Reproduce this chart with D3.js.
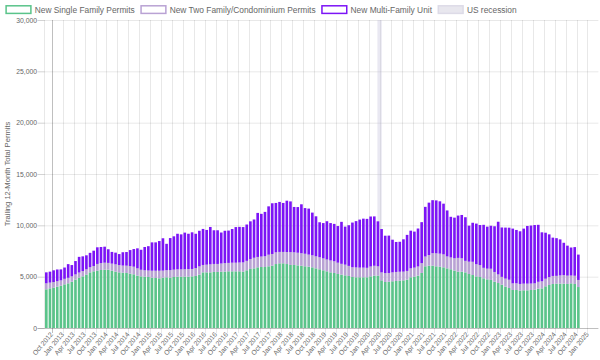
<!DOCTYPE html>
<html>
<head>
<meta charset="utf-8">
<script src="https://cdn.jsdelivr.net/npm/d3@7/dist/d3.min.js"></script>
<style>
  body { margin: 0; background: #fff; }
  #chart { width: 600px; height: 360px; }
  text { font-family: "Liberation Sans", Arial, Helvetica, sans-serif; fill: #666; }
</style>
</head>
<body>
<div id="chart"></div>
<script>
// x categories: one per month, Aug 2012 .. Mar 2025 (data stops at Oct 2024)
const firstMonth = new Date(2012, 7, 1);
const lastMonth = new Date(2025, 2, 1);

// trailing 12-month permits, starting Aug 2012
const singleFamily = [
  3770,3860,3930,4030,4120,4250,4350,4510,4710,4900,
  5030,5200,5420,5520,5590,5650,5680,5680,5590,5490,
  5420,5390,5360,5290,5230,5100,5030,5000,4970,4900,
  4870,4840,4900,4940,4900,4970,5000,5000,5000,5000,
  5030,5070,5200,5420,5420,5420,5460,5460,5490,5490,
  5520,5520,5520,5520,5490,5620,5750,5810,5910,5940,
  5940,6010,6070,6230,6300,6300,6230,6140,6140,6100,
  6070,6010,5970,5910,5810,5720,5620,5520,5420,5360,
  5260,5200,5130,5070,4970,4940,4940,4940,4940,5030,
  5100,5100,4640,4480,4510,4550,4580,4610,4640,4710,
  4940,5000,5100,5360,6010,6070,6070,6010,5970,5910,
  5810,5720,5590,5490,5490,5420,5260,5160,5030,4970,
  4840,4740,4680,4510,4380,4220,4030,3900,3700,3700,
  3640,3670,3670,3700,3730,3830,3860,4060,4190,4290,
  4320,4320,4320,4290,4350,4290,3990
];
const twoFamily = [
  580,560,550,530,520,540,540,520,510,500,
  520,520,500,520,650,680,680,660,680,710,
  710,690,710,740,740,710,640,620,630,680,
  710,740,690,690,740,710,710,710,720,740,
  720,770,800,720,750,780,780,780,790,830,
  820,840,840,860,900,920,970,1030,1010,1020,
  1050,1130,1140,1140,1110,1110,1170,1250,1230,1230,
  1210,1220,1180,1170,1170,1170,1160,1150,1160,1140,
  1100,1050,1040,980,950,960,940,940,920,960,
  960,910,780,870,850,870,880,870,850,850,
  870,880,890,960,950,1040,1220,1260,1270,1260,
  1160,1150,1200,1340,1300,1120,1200,1290,1180,1160,
  1020,1040,1090,950,840,760,780,800,650,650,
  650,650,650,630,620,670,690,740,770,780,
  760,800,830,810,760,800,690
];
const multiFamily = [
  1070,1070,1140,1140,1070,1100,1330,1100,1300,1530,
  1430,1360,1400,1490,1620,1560,1560,1330,1140,1140,
  1070,1300,1330,1560,1720,1950,1950,2270,2370,2760,
  2760,2890,3150,2570,3120,3250,3470,3410,3570,3440,
  3570,3340,3470,3510,3380,3640,3280,3280,3020,3150,
  3150,3280,3470,3470,3440,3540,3670,3730,4290,4160,
  4320,4710,4940,4810,4870,4770,5000,4940,4420,4450,
  4770,4450,4480,4160,3900,3410,3440,3730,3640,3640,
  3570,4090,3700,3960,4350,4510,4680,4770,4770,4870,
  4810,4380,4220,3640,3640,3180,2920,2920,3150,3510,
  3670,3510,3700,3990,4840,5100,5160,5160,5100,4940,
  4480,3960,3960,4120,4220,4250,3510,3800,3960,3900,
  4190,4090,4190,4450,5130,4810,4970,5070,5330,5200,
  5130,5360,5620,5650,5680,5550,4770,4480,4160,3730,
  3670,3510,3150,2920,2730,2790,2470
];
const seriesKeys = ['single', 'two', 'multi'];
const seriesNames = ['New Single Family Permits', 'New Two Family/Condominium Permits', 'New Multi-Family Unit'];
const yTicks = [0, 5000, 10000, 15000, 20000, 25000, 30000];
const recessionMonths = ['2020-03', '2020-04'];

const colors = { single: '#5ac48a', two: '#b9a2d4', multi: '#7c14f6' };

const width = 600, height = 360;
const margin = { top: 20, right: 1.6, bottom: 32, left: 44.5 };

const key = d3.timeFormat('%Y-%m');
const parseKey = d3.timeParse('%Y-%m');
const label = d3.timeFormat('%b %Y');
const months = d3.timeMonth.range(firstMonth, d3.timeMonth.offset(lastMonth, 1));

const rows = singleFamily.map((v, i) => ({
  month: key(months[i]), single: v, two: twoFamily[i], multi: multiFamily[i]
}));
const stacked = d3.stack().keys(seriesKeys)(rows);

const svg = d3.select('#chart').append('svg')
  .attr('width', width)
  .attr('height', height);

// scales
const x = d3.scaleBand()
  .domain(months.map(key))
  .range([margin.left, width - margin.right]);
const y = d3.scaleLinear()
  .domain([0, 30000])
  .range([height - margin.bottom, margin.top]);
const bw = x.bandwidth();

// ticks every quarter (Jan, Apr, Jul, Oct)
const tickMonths = months.filter(m => m.getMonth() % 3 === 0).map(key);

// horizontal grid
svg.append('g').attr('class', 'grid-y')
  .selectAll('line')
  .data(yTicks.filter(d => d > 0))
  .join('line')
  .attr('x1', margin.left - 7).attr('x2', width - margin.right)
  .attr('y1', d => y(d) + 0.5).attr('y2', d => y(d) + 0.5)
  .attr('stroke', 'rgba(0,0,0,0.09)');

// vertical grid at the left edge of each labelled month
svg.append('g').attr('class', 'grid-x')
  .selectAll('line')
  .data(tickMonths)
  .join('line')
  .attr('x1', d => Math.round(x(d)) + 0.5).attr('x2', d => Math.round(x(d)) + 0.5)
  .attr('y1', margin.top).attr('y2', height - margin.bottom + 5)
  .attr('stroke', (d, i) => i === 0 ? 'rgba(0,0,0,0.25)' : 'rgba(0,0,0,0.09)');

// y axis border
svg.append('line')
  .attr('x1', margin.left).attr('x2', margin.left)
  .attr('y1', margin.top).attr('y2', height - margin.bottom)
  .attr('stroke', 'rgba(0,0,0,0.09)');

// recession band
svg.append('rect')
  .attr('x', x(recessionMonths[0]) + bw * 0.35)
  .attr('y', margin.top)
  .attr('width', x(recessionMonths[1]) + bw * 0.55 - x(recessionMonths[0]) - bw * 0.35)
  .attr('height', height - margin.bottom - margin.top)
  .attr('fill', 'rgba(195,190,220,0.36)');

// stacked bars
svg.append('g').attr('class', 'bars')
  .selectAll('g')
  .data(stacked)
  .join('g')
  .attr('fill', s => colors[s.key])
  .selectAll('rect')
  .data(s => s)
  .join('rect')
  .attr('x', d => x(d.data.month) + bw * 0.14)
  .attr('width', bw * 0.72)
  .attr('y', d => y(d[1]))
  .attr('height', d => y(d[0]) - y(d[1]));

// zero line
svg.append('line')
  .attr('x1', margin.left - 7).attr('x2', width - margin.right)
  .attr('y1', y(0) + 0.5).attr('y2', y(0) + 0.5)
  .attr('stroke', 'rgba(0,0,0,0.25)');

// y axis labels
const yAxis = svg.append('g')
  .attr('class', 'axis axis-y')
  .attr('transform', `translate(${margin.left}, 0)`)
  .call(d3.axisLeft(y).tickValues(yTicks).tickSize(7).tickPadding(0.5).tickFormat(d3.format(',')));
yAxis.select('.domain').remove();
yAxis.selectAll('line').attr('stroke', 'rgba(0,0,0,0.09)');
yAxis.selectAll('text').style('font-size', '6.8px');

// x axis labels
const xAxis = svg.append('g')
  .attr('class', 'axis axis-x')
  .attr('transform', `translate(0, ${height - margin.bottom})`)
  .call(d3.axisBottom(x).tickValues(tickMonths).tickSize(0).tickFormat(k => label(parseKey(k))));
xAxis.select('.domain').remove();
xAxis.selectAll('text')
  .style('font-size', '6.8px')
  .attr('y', 0)
  .attr('dy', '0.35em')
  .attr('text-anchor', 'end')
  .attr('transform', 'translate(-2, 5) rotate(-50)');

// y axis title
svg.append('text')
  .attr('transform', `translate(7, ${(margin.top + height - margin.bottom) / 2}) rotate(-90)`)
  .attr('text-anchor', 'middle')
  .attr('dy', '0.35em')
  .style('font-size', '7.6px')
  .text('Trailing 12-Month Total Permits');

// legend
const legendItems = seriesKeys.map((k, i) => ({ name: seriesNames[i], fill: '#fff', stroke: colors[k] }))
  .concat([{ name: 'US recession', fill: '#e8e7ee', stroke: '#dddbe7' }]);
const legend = svg.append('g').attr('class', 'legend');
let lx = 5.4;
legendItems.forEach(item => {
  legend.append('rect')
    .attr('x', lx + 0.7).attr('y', 5.8)
    .attr('width', 24.8).attr('height', 7.6)
    .attr('fill', item.fill)
    .attr('stroke', item.stroke)
    .attr('stroke-width', 1.5);
  const t = legend.append('text')
    .attr('x', lx + 29.3).attr('y', 9.8)
    .attr('dy', '0.35em')
    .style('font-size', '8.4px')
    .text(item.name);
  lx += 29.3 + t.node().getComputedTextLength() + 5.6;
});
</script>
</body>
</html>
